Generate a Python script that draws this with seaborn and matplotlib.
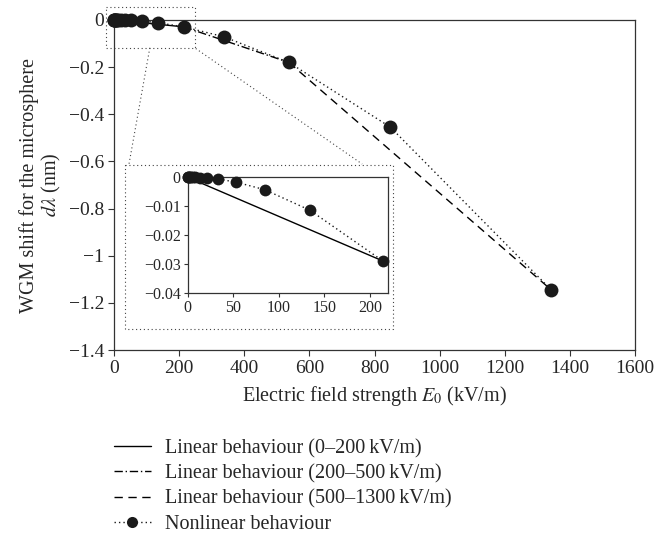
import numpy as np
import matplotlib
matplotlib.use("Agg")
import matplotlib.pyplot as plt
import seaborn as sns

sns.set_style("ticks")
plt.rcParams['font.family'] = ['Liberation Serif', 'DejaVu Serif']
plt.rcParams['mathtext.fontset'] = 'stix'

# datos (campo en kV/m, corrimiento en nm)
campo_nl = [0, 0.85, 1.3, 2.1, 3.4, 5.3, 8.5, 13.4, 21.3, 33.7, 53.4, 84.6, 134, 214, 337, 537, 849, 1342]
shift_nl = [0, 0, 0, 0, 0, 0, 0, -0.0001, -0.0002, -0.0006, -0.0017, -0.0043, -0.0114, -0.029,
            -0.071, -0.180, -0.455, -1.144]

campo_lin1 = [0, 214]
shift_lin1 = [0, -0.029]
campo_lin2 = [214, 537]
shift_lin2 = [-0.029, -0.180]
campo_lin3 = [537, 1342]
shift_lin3 = [-0.180, -1.144]

etiquetas = ['Linear behaviour (0\u2013200\u2009kV/m)',
             'Linear behaviour (200\u2013500\u2009kV/m)',
             'Linear behaviour (500\u20131300\u2009kV/m)',
             'Nonlinear behaviour']

# recuadros del zoom (coordenadas de datos del eje principal)
zoom_x = [-25, 248]
zoom_y = [0.057, -0.12]
caja_x = [34, 857]
caja_y = [-0.614, -1.312]
guia_a = ([110, 46], [-0.118, -0.611])
guia_b = ([251, 762], [-0.121, -0.611])

fig = plt.figure(figsize=(6.56, 5.36), dpi=100)
ax = fig.add_axes([0.1738, 0.347, 0.7942, 0.6157])

punteado = (0, (1, 2.2))
sns.lineplot(x=campo_lin1, y=shift_lin1, ax=ax, color='k', lw=1.0, linestyle='-', label=etiquetas[0])
sns.lineplot(x=campo_lin2, y=shift_lin2, ax=ax, color='k', lw=1.0, linestyle=(0, (6, 2, 1, 2)), label=etiquetas[1])
sns.lineplot(x=campo_lin3, y=shift_lin3, ax=ax, color='k', lw=1.0, linestyle=(0, (6, 4)), label=etiquetas[2])
sns.lineplot(x=campo_nl, y=shift_nl, ax=ax, color='#1a1a1a', lw=1.0, linestyle=punteado, marker='o',
             markersize=10, markeredgewidth=0, sort=False, clip_on=False, zorder=5, label=etiquetas[3])

ax.set_xlim(0, 1600)
ax.set_ylim(-1.4, 0)
ax.set_xticks(range(0, 1601, 200))
ax.set_yticks(np.arange(-1.4, 0.01, 0.2))


def formato(v, _):
    if abs(v) < 1e-9:
        return '0'
    return ('%g' % round(v, 4)).replace('-', '\u2212')


ax.yaxis.set_major_formatter(plt.FuncFormatter(formato))
ax.tick_params(labelsize=14, direction='out', length=4, width=0.8, color='#333333', pad=3)
for s in ax.spines.values():
    s.set_linewidth(0.9)
    s.set_color('#333333')
ax.set_xlabel('Electric field strength $\\mathit{E}_0$ (kV/m)', fontsize=14.5, labelpad=5)
ax.set_ylabel('WGM shift for the microsphere\n$d\\lambda$ (nm)', fontsize=14.5, linespacing=1.05, labelpad=4)

# recuadro punteado del zoom y lineas guia
kw = dict(color='#444444', lw=0.8, linestyle=(0, (1, 2.5)), clip_on=False)
ax.plot([zoom_x[0], zoom_x[1], zoom_x[1], zoom_x[0], zoom_x[0]],
        [zoom_y[0], zoom_y[0], zoom_y[1], zoom_y[1], zoom_y[0]], **kw)
ax.plot([caja_x[0], caja_x[1], caja_x[1], caja_x[0], caja_x[0]],
        [caja_y[0], caja_y[0], caja_y[1], caja_y[1], caja_y[0]], **kw)
ax.plot(*guia_a, **kw)
ax.plot(*guia_b, **kw)

# inset (0-220 kV/m)
axi = fig.add_axes([0.2861, 0.4539, 0.3058, 0.2153])
campo_in = [c for c in campo_nl if c <= 220]
shift_in = shift_nl[:len(campo_in)]
sns.lineplot(x=campo_lin1, y=shift_lin1, ax=axi, color='k', lw=1.0, linestyle='-', legend=False)
sns.lineplot(x=campo_in, y=shift_in, ax=axi, color='#1a1a1a', lw=1.0, linestyle=punteado, marker='o',
             markersize=8.5, markeredgewidth=0, sort=False, clip_on=False, zorder=5, legend=False)
axi.set_xlim(0, 220)
axi.set_ylim(-0.04, 0)
axi.set_xticks(range(0, 201, 50))
axi.set_yticks([0, -0.01, -0.02, -0.03, -0.04])
axi.yaxis.set_major_formatter(plt.FuncFormatter(formato))
axi.tick_params(labelsize=11.5, direction='out', length=3, width=0.8, color='#333333', pad=2)
for s in axi.spines.values():
    s.set_linewidth(0.9)
    s.set_color('#333333')
axi.set_xlabel('')
axi.set_ylabel('')

handles, labels = ax.get_legend_handles_labels()
if ax.get_legend():
    ax.get_legend().remove()
fig.legend(handles, labels, loc='upper left', bbox_to_anchor=(0.162, 0.196), frameon=False,
           fontsize=14.5, handlelength=1.8, handletextpad=0.7, labelspacing=0.3, borderaxespad=0,
           markerscale=0.8)

fig.savefig('out.png', dpi=100)
